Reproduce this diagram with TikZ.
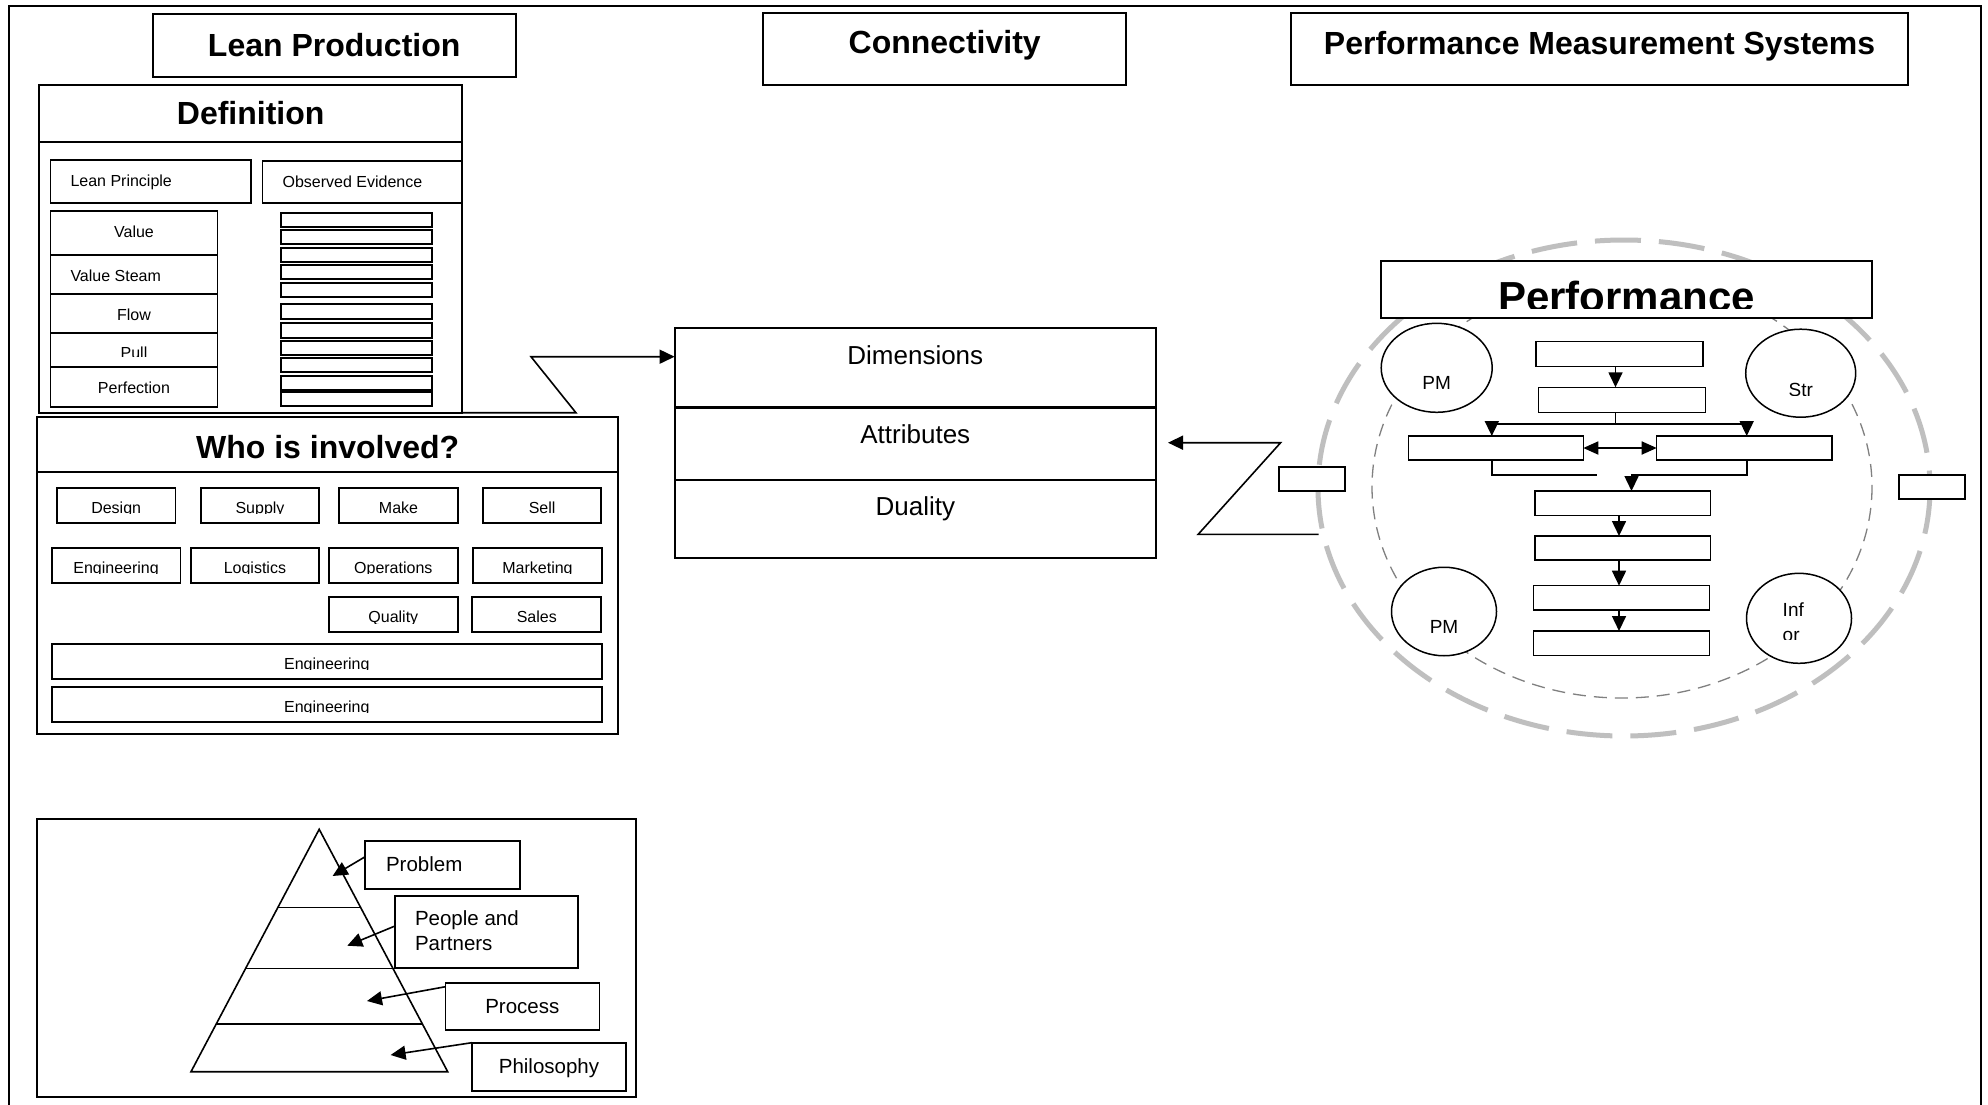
\documentclass[tikz,border=0pt]{standalone}
\usepackage{fontspec}
\setmainfont{Liberation Sans}
\usetikzlibrary{arrows.meta,shapes.geometric}

% font sizes (1 unit = 1pt)
\newcommand\fTitle{\fontsize{32}{38}\selectfont\bfseries}
\newcommand\fBig{\fontsize{42}{50}\selectfont\bfseries}
\newcommand\fSmall{\fontsize{16}{19}\selectfont}
\newcommand\fMid{\fontsize{26}{31}\selectfont}
\newcommand\fPyr{\fontsize{20.5}{25}\selectfont}
\newcommand\fCirc{\fontsize{19}{23}\selectfont}

% rectangle node given by its corners: name, x1, y1, x2, y2, style
\newcommand\boxat[6]{%
  \node[#6, minimum width={(#4)-(#2)}, minimum height={(#5)-(#3)}]
    (#1) at ({((#2)+(#4))/2},{((#3)+(#5))/2}) {};}

% label whose lower part is cut off: [anchor] name, x, baseline, cut line, text, font
\newcommand\cutlbl[7][base]{%
  \begin{scope}
    \clip ({(#3)-250},{(#4)-80}) rectangle ({(#3)+250},{#5});
    \node[anchor=#1, inner sep=0pt, outer sep=0pt, font=#7] (#2) at (#3,#4) {#6};
  \end{scope}}

\tikzset{
  bx/.style={draw, line width=1.8pt, fill=white, inner sep=0pt, outer sep=0pt},
  thinbx/.style={bx, line width=1.5pt},
  ring/.style={draw, ellipse, line width=1.5pt, fill=white, inner sep=0pt, outer sep=0pt},
  txt/.style={inner sep=0pt, outer sep=0pt},
  link/.style={line width=1.6pt},
  arr/.style={line width=1.6pt, -{Triangle[length=15pt,width=14pt]}},
  dblarr/.style={line width=1.8pt, {Triangle[length=15pt,width=13pt]}-{Triangle[length=15pt,width=13pt]}},
}

\begin{document}
\begin{tikzpicture}[x=1pt,y=-1pt]
\useasboundingbox (0,0) rectangle (1988,1105);
\fill[white] (0,0) rectangle (1988,1105);

% page frame (open at the bottom)
\draw[line width=1.6pt] (9,1105) -- (9,6) -- (1981,6) -- (1981,1105);

% ---------- column titles ----------
\boxat{leanT}{152.7}{14}{515.6}{76.7}{bx}
\node[txt, anchor=base, font=\fTitle] (leanT-t) at (334.2,56.5) {Lean Production};
\boxat{connT}{763.3}{12.7}{1126}{85}{bx}
\node[txt, anchor=base, font=\fTitle] (connT-t) at (944.7,53.5) {Connectivity};
\boxat{pmsT}{1290.8}{12.7}{1908.3}{85}{bx}
\node[txt, anchor=base, font=\fTitle] (pmsT-t) at (1599.6,54.5) {Performance Measurement Systems};

% ---------- Definition ----------
\boxat{defhead}{39.3}{85}{462}{141.7}{bx}
\boxat{def}{39.3}{141.7}{462}{412.7}{bx}
\node[txt, anchor=base, font=\fTitle] (defhead-t) at (250.7,124.5) {Definition};

\boxat{lp}{50.4}{160}{250.9}{202.7}{bx}
\node[txt, anchor=base west, font=\fSmall] (lp-t) at (70.5,186.7) {Lean Principle};
\boxat{oe}{262.5}{160.7}{462}{202.7}{bx}
\node[txt, anchor=base west, font=\fSmall] (oe-t) at (282.6,187.2) {Observed Evidence};

\boxat{val}{50.4}{211}{217.4}{255.3}{bx}
\boxat{vs}{50.4}{255.3}{217.4}{294.3}{bx}
\boxat{flow}{50.4}{294.3}{217.4}{333.3}{bx}
\boxat{pull}{50.4}{333.3}{217.4}{366.7}{bx}
\boxat{perf}{50.4}{366.7}{217.4}{407.3}{bx}
\node[txt, anchor=base, font=\fSmall] (val-t) at (134,237.4) {Value};
\node[txt, anchor=base west, font=\fSmall] (vs-t) at (70.5,281.4) {Value Steam};
\node[txt, anchor=base, font=\fSmall] (flow-t) at (134,320.7) {Flow};
\cutlbl{pull-t}{134}{358.8}{356.5}{Pull}{\fSmall}
\node[txt, anchor=base, font=\fSmall] (perf-t) at (134,393) {Perfection};

% evidence slots
\foreach \i/\a/\b in {1/212.7/227.3, 2/230.3/244.3, 3/247.7/262, 4/265.3/279.3,
    5/282.7/297, 6/304/318.7, 7/323.3/337.7, 8/340.7/355, 9/357.7/372.3,
    10/376/390, 11/391.7/406}{
  \boxat{ev\i}{281}{\a}{432}{\b}{bx}
}

% ---------- Who is involved? ----------
\boxat{whohead}{37}{416.7}{618.3}{472.3}{bx, line width=2.2pt}
\boxat{who}{37}{472.3}{618.3}{734}{bx}
\node[txt, anchor=base, font=\fTitle] (whohead-t) at (327.7,458.2) {Who is involved?};

\boxat{design}{57.1}{487.7}{175.4}{522.7}{bx}
\boxat{supply}{200.9}{487.7}{319.2}{522.7}{bx}
\boxat{make}{339.3}{487.7}{457.6}{522.7}{bx}
\boxat{sell}{483}{487.7}{601.3}{522.7}{bx}
\cutlbl{design-t}{116.2}{513.3}{513.6}{Design}{\fSmall}
\cutlbl{supply-t}{260}{513.3}{513.6}{Supply}{\fSmall}
\cutlbl{make-t}{398.5}{513.3}{513.6}{Make}{\fSmall}
\cutlbl{sell-t}{542.1}{513.3}{513.6}{Sell}{\fSmall}

\boxat{eng}{51.8}{547.7}{180.4}{583.3}{bx}
\boxat{logi}{190.6}{547.7}{319.2}{583.3}{bx}
\boxat{ops}{329}{547.7}{457.6}{583.3}{bx}
\boxat{mkt}{473.2}{547.7}{601.8}{583.3}{bx}
\cutlbl{eng-t}{116.1}{573.3}{573.6}{Engineering}{\fSmall}
\cutlbl{logi-t}{254.9}{573.3}{573.6}{Logistics}{\fSmall}
\cutlbl{ops-t}{393.3}{573.3}{573.6}{Operations}{\fSmall}
\cutlbl{mkt-t}{537.5}{573.3}{573.6}{Marketing}{\fSmall}

\boxat{qual}{329}{596.7}{457.6}{632.3}{bx}
\boxat{sales}{472.3}{596.7}{601.3}{632.3}{bx}
\cutlbl{qual-t}{393.3}{622.8}{623.1}{Quality}{\fSmall}
\cutlbl{sales-t}{536.8}{622.8}{623.1}{Sales}{\fSmall}

\boxat{engA}{51.8}{644}{601.8}{679}{bx}
\cutlbl{engA-t}{326.8}{669.4}{669.7}{Engineering}{\fSmall}
\boxat{engB}{51.8}{687}{601.8}{721.7}{bx}
\cutlbl{engB-t}{326.8}{712.4}{712.7}{Engineering}{\fSmall}

% ---------- pyramid ----------
\boxat{pyr}{37}{819.3}{636}{1097}{bx}
\draw[line width=1.6pt, line join=miter] (319.2,829.3) -- (191,1071.7) -- (447.7,1071.7) -- cycle;
\draw[line width=1.6pt] (277.9,907.3) -- (360.6,907.3);
\draw[line width=1.6pt] (245.7,968.3) -- (392.9,968.3);
\draw[line width=1.6pt] (216.2,1024) -- (422.4,1024);

\boxat{prob}{365.2}{840.7}{520}{889.3}{bx}
\node[txt, anchor=base west, font=\fPyr] (prob-t) at (386,871.7) {Problem};
\boxat{pp}{395}{895.7}{578}{967.7}{bx}
\node[txt, anchor=base west, font=\fPyr] (pp-t1) at (415,925) {People and};
\node[txt, anchor=base west, font=\fPyr] (pp-t2) at (415,950.7) {Partners};
\boxat{proc}{445.5}{982.7}{599.5}{1030}{bx}
\node[txt, anchor=base, font=\fPyr] (proc-t) at (522.3,1013.3) {Process};
\boxat{phil}{471.8}{1042.7}{626.3}{1090.7}{bx}
\node[txt, anchor=base, font=\fPyr] (phil-t) at (549,1073.3) {Philosophy};

\coordinate (tipProb) at (332.6,876);
\coordinate (tipPP) at (347.3,945.7);
\coordinate (tipProc) at (367,1001);
\coordinate (tipPhil) at (390.6,1055);
\draw[arr] ([yshift=8.3pt]prob.west) -- (tipProb);
\draw[arr] ([yshift=5.7pt]pp.west) -- (tipPP);
\draw[arr] ([yshift=-4pt]proc.north west) -- (tipProc);
\draw[arr] (phil.north west) -- (tipPhil);

% ---------- Connectivity ----------
\boxat{dim}{674.6}{328.3}{1156}{407.3}{bx}
\boxat{attr}{674.6}{407.3}{1156}{480.3}{bx}
\boxat{dual}{674.6}{480.3}{1156}{558.3}{bx}
\draw[line width=2.8pt] (dim.south west) -- (dim.south east);
\draw[line width=2.3pt] (attr.south west) -- (attr.south east);
\node[txt, anchor=base, font=\fMid] (dim-t) at (915.3,364) {Dimensions};
\node[txt, anchor=base, font=\fMid] (attr-t) at (915.3,443.3) {Attributes};
\node[txt, anchor=base, font=\fMid] (dual-t) at (915.3,515) {Duality};

% Z-shaped link from Definition to Dimensions
\coordinate (zAx) at (575.9,0);
\coordinate (zB) at (531,356.7);
\draw[arr, line join=miter] (def.south east) -- (def.south east -| zAx) -- (zB) -- (zB -| dim.west);

% ---------- Performance measurement ----------
\draw[gray!50, line width=5pt, dash pattern=on 46pt off 18pt]
  (1624,488) ellipse [x radius=306, y radius=248];
\draw[gray, line width=1.3pt, dash pattern=on 13pt off 8pt]
  (1622,487) ellipse [x radius=250, y radius=211];

\boxat{sideL}{1279}{466.7}{1345.2}{490.7}{bx}
\boxat{sideR}{1899}{475}{1964.8}{499}{bx}

% Z-shaped link from the performance ring back to Attributes
\coordinate (wA) at (1318.6,534.3);
\coordinate (wB) at (1198.2,534.3);
\coordinate (wC) at (1280.6,442.7);
\coordinate (wTip) at (1168,442.7);
\draw[arr, line join=miter] (wA) -- (wB) -- (wC) -- (wTip);

\boxat{perfT}{1381}{260.7}{1871.7}{318}{bx}
\cutlbl{perfT-t}{1626.4}{311.8}{308.3}{Performance}{\fBig}

\node[ring, minimum width=111, minimum height=89] (pmA) at (1436.7,367.8) {};
\node[ring, minimum width=110, minimum height=88] (str) at (1800.7,373.2) {};
\node[ring, minimum width=105, minimum height=88.5] (pmB) at (1444,611.5) {};
\node[ring, minimum width=105, minimum height=90] (inf) at (1799,618.3) {};
\node[txt, anchor=base, font=\fCirc] (pmA-t) at (1436.7,389.3) {PM};
\cutlbl{str-t}{1800.8}{396.5}{395}{Str}{\fCirc}
\node[txt, anchor=base, font=\fCirc] (pmB-t) at (1444,633.3) {PM};
\node[txt, anchor=base west, font=\fCirc] (inf-t1) at (1782.7,616.7) {Inf};
\cutlbl[base west]{inf-t2}{1782.7}{641}{639.3}{or}{\fCirc}

% flow of boxes
\boxat{fa}{1536}{341.7}{1702.8}{366.7}{thinbx}
\boxat{fb}{1538.3}{387.3}{1705.7}{412.7}{thinbx}
\boxat{fc}{1408.4}{436}{1583.3}{460}{thinbx}
\boxat{fd}{1656.7}{436}{1831.8}{460}{thinbx}
\boxat{fe}{1535}{491}{1710.7}{515.7}{thinbx}
\boxat{ff}{1534.8}{536}{1710.7}{560}{thinbx}
\boxat{fg}{1533.4}{585.7}{1709.4}{610}{thinbx}
\boxat{fh}{1533.4}{631}{1709.4}{655.7}{thinbx}

\coordinate (sx) at (1615.5,0);
\coordinate (sy) at (1619,0);
\draw[arr] (fa.south -| sx) -- (fb.north -| sx);

\coordinate (brM) at (1615.5,423.7);
\coordinate (brL) at (1491.8,423.7);
\coordinate (brR) at (1746.7,423.7);
\draw[link] (fb.south -| sx) -- (brM);
\draw[arr] (brM) -- (brL) -- (brL |- fc.north);
\draw[arr] (brM) -- (brR) -- (brR |- fd.north);
\draw[dblarr] (fc.east) -- (fd.west);

\coordinate (mgL) at (1491.8,475);
\coordinate (mgLend) at (1597.3,475);
\coordinate (mgR) at (1746.7,475);
\coordinate (mgTip) at (1631.5,475);
\draw[link] (fc.south -| mgL) -- (mgL) -- (mgLend);
\draw[arr] (fd.south -| mgR) -- (mgR) -- (mgTip) -- (mgTip |- fe.north);

\draw[arr] (fe.south -| sy) -- (ff.north -| sy);
\draw[arr] (ff.south -| sy) -- (fg.north -| sy);
\draw[arr] (fg.south -| sy) -- (fh.north -| sy);

\end{tikzpicture}
\end{document}
